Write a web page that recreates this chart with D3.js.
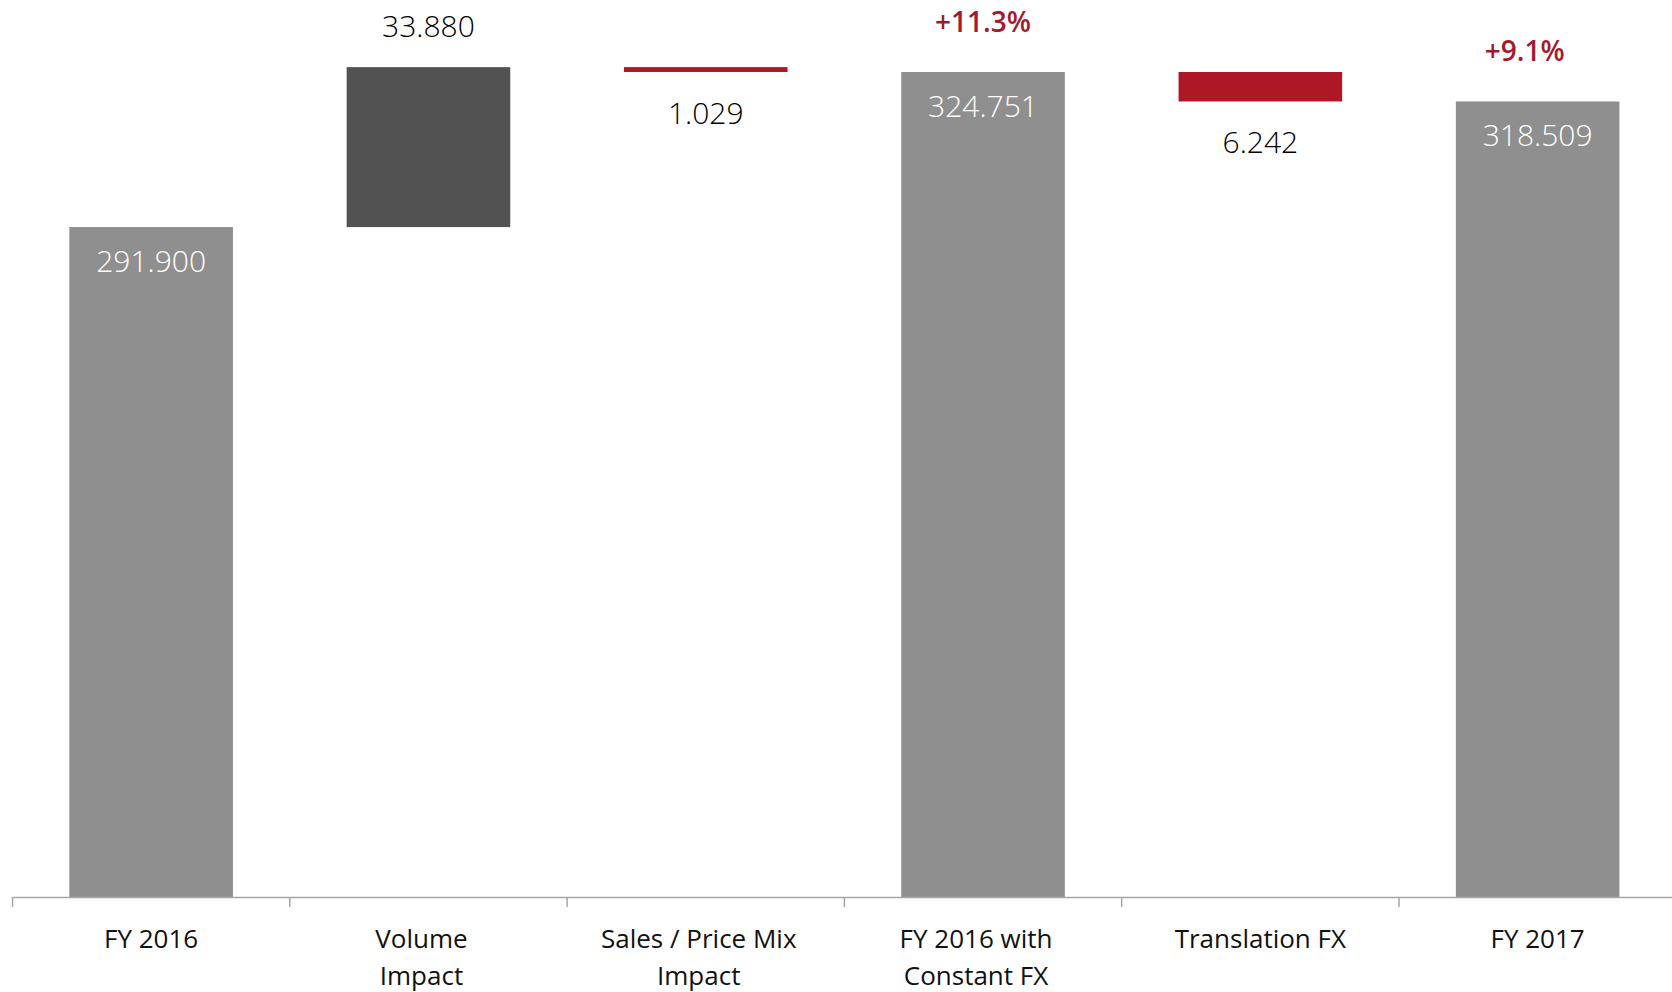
<!DOCTYPE html>
<html>
<head>
<meta charset="utf-8">
<script src="https://cdn.jsdelivr.net/npm/d3@7"></script>
<style>
  html, body { margin: 0; padding: 0; background: #fff; }
  svg { display: block; font-family: "Open Sans", "Noto Sans", sans-serif; }
</style>
</head>
<body>
<div id="chart"></div>
<script>
// Waterfall bridge from FY 2016 to FY 2017.
const categories = ["FY 2016", "Volume Impact", "Sales / Price Mix Impact", "FY 2016 with Constant FX", "Translation FX", "FY 2017"];
const categoryLines = [["FY 2016"], ["Volume", "Impact"], ["Sales / Price Mix", "Impact"], ["FY 2016 with", "Constant FX"], ["Translation FX"], ["FY 2017"]];
const values = [291.900, 33.880, -1.029, 324.751, -6.242, 318.509];
const kinds = ["total", "up", "down", "total", "down", "total"];
const valueLabels = ["291.900", "33.880", "1.029", "324.751", "6.242", "318.509"];
const growthLabels = [null, null, null, "+11.3%", null, "+9.1%"];
const yDomain = [150, 340];

const WIDTH = 1672, HEIGHT = 992;
const AXIS_Y = 897;
const COLORS = { total: "#8f8f8f", up: "#525252", down: "#ae1826" };

// Running totals give each bar its start and end.
let running = 0;
const bars = categories.map((c, i) => {
    let start, end;
    if (kinds[i] === "total") {
        start = yDomain[0];
        end = values[i];
        running = values[i];
    } else {
        start = running;
        end = running + values[i];
        running = end;
    }
    return { category: c, lines: categoryLines[i], kind: kinds[i], start, end,
             label: valueLabels[i], growth: growthLabels[i] };
});

const svg = d3.select("#chart")
    .append("svg")
    .attr("width", WIDTH)
    .attr("height", HEIGHT);

const xScale = d3.scaleBand()
    .domain(categories)
    .range([12.5, 12.5 + 6 * 277.3])
    .paddingInner(0.41)
    .paddingOuter(0.205);

const yScale = d3.scaleLinear()
    .domain(yDomain)
    .range([AXIS_Y, 0]);

const step = xScale.step();
const bw = xScale.bandwidth();
const center = c => xScale(c) + bw / 2;

// Bars
svg.selectAll("rect.bar")
    .data(bars)
    .join("rect")
    .attr("class", "bar")
    .attr("x", d => xScale(d.category))
    .attr("width", bw)
    .attr("y", d => yScale(Math.max(d.start, d.end)))
    .attr("height", d => Math.abs(yScale(d.start) - yScale(d.end)))
    .attr("fill", d => COLORS[d.kind]);

// Axis line with ticks at category boundaries
svg.append("line")
    .attr("x1", xScale.range()[0])
    .attr("x2", WIDTH)
    .attr("y1", AXIS_Y + 0.5)
    .attr("y2", AXIS_Y + 0.5)
    .attr("stroke", "#a6a6a6")
    .attr("stroke-width", 1.5);

svg.selectAll("line.tick")
    .data(categories)
    .join("line")
    .attr("class", "tick")
    .attr("x1", d => xScale(d) - step * 0.205)
    .attr("x2", d => xScale(d) - step * 0.205)
    .attr("y1", AXIS_Y)
    .attr("y2", AXIS_Y + 10)
    .attr("stroke", "#a6a6a6")
    .attr("stroke-width", 1.5);

// Category labels; wrapped ones sit a little left, as Excel keeps the break space
const catText = svg.selectAll("text.cat")
    .data(bars)
    .join("text")
    .attr("class", "cat")
    .attr("text-anchor", "middle")
    .attr("font-size", 26)
    .attr("fill", "#111");

catText.selectAll("tspan")
    .data(d => d.lines.map(l => ({ l, x: center(d.category) - (d.lines.length > 1 ? 7 : 0) })))
    .join("tspan")
    .attr("x", d => d.x)
    .attr("y", (d, i) => 948 + i * 37)
    .text(d => d.l);

// Value labels: inside totals, above increases, below decreases
svg.selectAll("text.val")
    .data(bars)
    .join("text")
    .attr("class", "val")
    .attr("text-anchor", "middle")
    .attr("font-size", 30)
    .attr("font-weight", 300)
    .attr("x", d => center(d.category))
    .attr("y", d => {
        if (d.kind === "total") return yScale(d.end) + 45;
        if (d.kind === "up") return yScale(d.end) - 30;
        return yScale(d.end) + 52;
    })
    .attr("fill", d => d.kind === "total" ? "#ffffff" : "#000000")
    .text(d => d.label);

// Growth labels above the total bars (the last one is nudged left in the source)
svg.selectAll("text.growth")
    .data(bars.filter(d => d.growth))
    .join("text")
    .attr("class", "growth")
    .attr("text-anchor", "middle")
    .attr("font-size", 28)
    .attr("font-weight", 600)
    .attr("fill", "#a4192b")
    .attr("x", d => center(d.category) - (d.category === "FY 2017" ? 13 : 0))
    .attr("y", d => yScale(d.end) - 40)
    .text(d => d.growth);
</script>
</body>
</html>
